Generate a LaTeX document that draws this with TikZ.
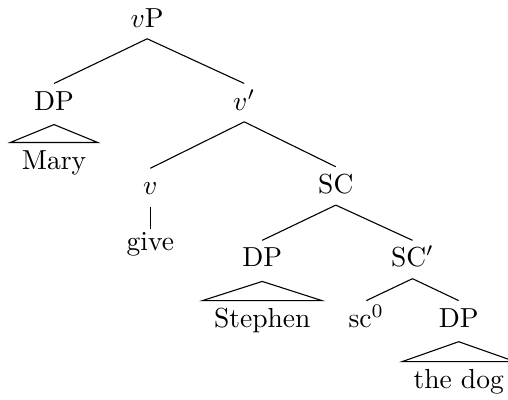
\documentclass[tikz,border=0pt]{standalone}
\usepackage{amsmath}
\usepackage{amssymb}
\tikzset{
  cat/.style={anchor=base, inner sep=3pt, text height=1.5ex, text depth=.25ex},
  leaf/.style={cat, inner xsep=4pt},
}

\begin{document}
\begin{tikzpicture}
      \useasboundingbox (0,0) rectangle (6.49,-5.11);

      \node[cat] (vP) at (1.88,-0.345) {$v$P};
      \node[cat] (DP1) at (0.69,-1.406) {DP};
      \node[leaf] (mary) at (0.69,-2.16) {Mary};
      \node[cat] (vbar) at (3.12,-1.406) {$v'$};
      \node[cat] (v) at (1.92,-2.49) {$v$};
      \node[cat, text height=1ex] (give) at (1.92,-3.195) {give};
      \node[cat] (SC) at (4.29,-2.47) {SC};
      \node[cat] (DP2) at (3.35,-3.41) {DP};
      \node[leaf] (stephen) at (3.35,-4.18) {Stephen};
      \node[cat] (SCbar) at (5.27,-3.41) {SC$'$};
      \node[cat] (sc) at (4.68,-4.18) {sc$^0$};
      \node[cat] (DP3) at (5.86,-4.18) {DP};
      \node[leaf] (dog) at (5.86,-4.96) {the dog};

      \draw (vP.south) -- (DP1.north);
      \draw (vP.south) -- (vbar.north);
      \draw (vbar.south) -- (v.north);
      \draw (vbar.south) -- (SC.north);
      \draw (v.south) -- (give.north);
      \draw (SC.south) -- (DP2.north);
      \draw (SC.south) -- (SCbar.north);
      \draw (SCbar.south) -- (sc.north);
      \draw (SCbar.south) -- (DP3.north);

      \draw ([yshift=-1pt]DP1.south) -- (mary.north west) -- (mary.north east) -- cycle;
      \draw ([yshift=-1pt]DP2.south) -- (stephen.north west) -- (stephen.north east) -- cycle;
      \draw ([yshift=-1pt]DP3.south) -- (dog.north west) -- (dog.north east) -- cycle;
    \end{tikzpicture}
\end{document}
